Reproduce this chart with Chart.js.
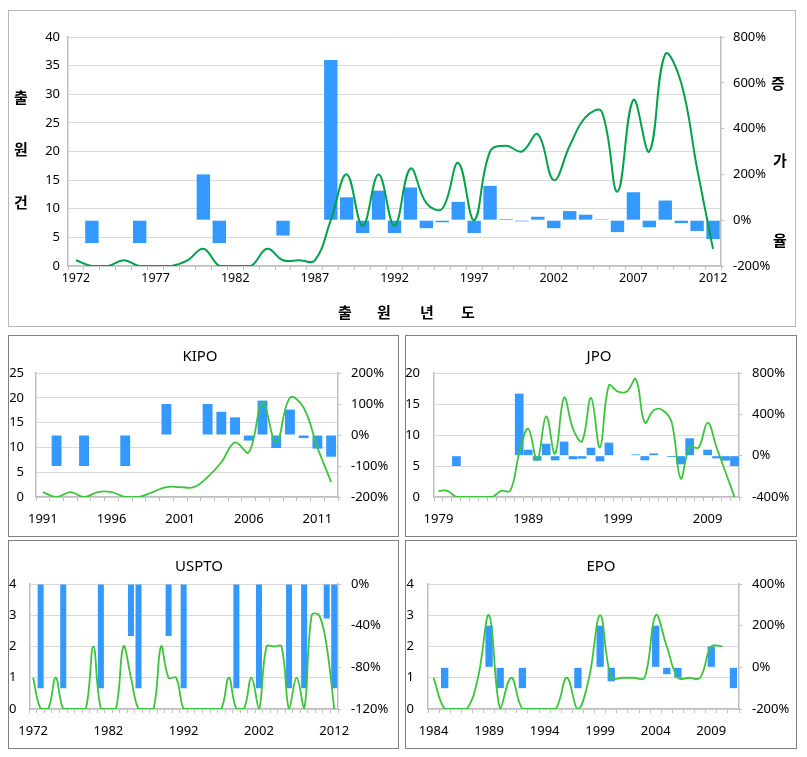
<!DOCTYPE html>
<html>
<head>
<meta charset="utf-8">
<script src="https://cdn.jsdelivr.net/npm/chart.js@4.4.0/dist/chart.umd.min.js"></script>
<style>
body { margin: 0; background: #fff; font-family: "Noto Sans", sans-serif; }
.box { position: absolute; box-sizing: border-box; border: 1px solid #808080; }
canvas { position: absolute; }
.t { position: absolute; transform: translate(-50%, -50%); white-space: nowrap; color: #000; }
.ko { font-family: "Noto Sans CJK KR", sans-serif; font-weight: bold; font-size: 15px; }
.ttl { font-size: 15px; }
</style>
</head>
<body>
<div class="box" style="left:8px;top:10px;width:788px;height:317px;border-color:#b8b8b8"></div>
<div class="box" style="left:8px;top:335px;width:391px;height:202px"></div>
<div class="box" style="left:405px;top:335px;width:392px;height:202px"></div>
<div class="box" style="left:8px;top:540px;width:391px;height:209px"></div>
<div class="box" style="left:405px;top:540px;width:392px;height:209px"></div>

<canvas id="total" width="787" height="316" style="left:8px;top:10px"></canvas>
<canvas id="kipo" width="390" height="201" style="left:8px;top:335px"></canvas>
<canvas id="jpo" width="392" height="201" style="left:405px;top:335px"></canvas>
<canvas id="uspto" width="390" height="208" style="left:8px;top:540px"></canvas>
<canvas id="epo" width="392" height="208" style="left:405px;top:540px"></canvas>

<div class="t ko" style="left:21px;top:96px">출</div>
<div class="t ko" style="left:21px;top:148px">원</div>
<div class="t ko" style="left:21px;top:201px">건</div>
<div class="t ko" style="left:778px;top:82px">증</div>
<div class="t ko" style="left:780px;top:159px">가</div>
<div class="t ko" style="left:780px;top:239px">율</div>
<div class="t ko" style="left:345px;top:311px">출</div>
<div class="t ko" style="left:384px;top:311px">원</div>
<div class="t ko" style="left:427px;top:311px">년</div>
<div class="t ko" style="left:468px;top:311px">도</div>

<div class="t ttl" style="left:200px;top:355px">KIPO</div>
<div class="t ttl" style="left:599px;top:355px">JPO</div>
<div class="t ttl" style="left:199px;top:565px">USPTO</div>
<div class="t ttl" style="left:601px;top:565px">EPO</div>

<script>
function years(from, to) {
    const out = [];
    for (let y = from; y <= to; y++) out.push(String(y));
    return out;
}

// 전체 (1972-2012)
const totalYears = years(1972, 2012);
const totalCounts = [1, 0, 0, 1, 0, 0, 0, 1, 3, 0, 0, 0, 3, 1, 1, 1, 8, 16, 7, 16, 7,
    17, 11, 10, 18, 8, 20, 21, 20, 23, 15, 21, 26, 27, 13, 29, 20, 37, 32, 17, 3];
const totalGrowth = [null, -100, null, null, -100, null, null, null, 200, -100, null, null, null,
    -67, 0, 0, 700, 100, -56, 129, -56, 143, -35, -9, 80, -56, 150, 5, -5, 15, -35, 40, 24, 4,
    -52, 122, -31, 86, -13, -47, -82];

// KIPO (1991-2012)
const kipoYears = years(1991, 2012);
const kipoCounts = [1, 0, 1, 0, 1, 1, 0, 0, 1, 2, 2, 2, 4, 7, 11, 9, 19, 11, 20, 18, 10, 3];
const kipoGrowth = [null, -100, null, -100, null, 0, -100, null, null, 100, 0, 0, 100, 75, 57,
    -18, 111, -42, 82, -10, -44, -70];

// JPO (1979-2012)
const jpoYears = years(1979, 2012);
const jpoCounts = [1, 1, 0, 0, 0, 0, 0, 1, 1, 7, 11, 6, 13, 7, 16, 11, 9, 16, 8, 18, 17, 17,
    19, 12, 14, 14, 12, 3, 8, 8, 12, 8, 4, 0];
const jpoGrowth = [null, 0, -100, null, null, null, null, null, 0, 600, 58, -48, 116, -45, 136,
    -35, -29, 77, -55, 126, -5, 0, 12, -45, 22, 0, -13, -84, 168, 0, 58, -26, -48, -100];

// USPTO (1972-2012)
const usptoYears = years(1972, 2012);
const usptoCounts = [1, 0, 0, 1, 0, 0, 0, 0, 2, 0, 0, 0, 2, 1, 0, 0, 0, 2, 1, 1, 0, 0, 0, 0,
    0, 0, 1, 0, 0, 1, 0, 2, 2, 2, 0, 1, 0, 3, 3, 2, 0];
const usptoGrowth = [null, -100, null, null, -100, null, null, null, null, -100, null, null, null,
    -50, -100, null, null, null, -50, 0, -100, null, null, null, null, null, null, -100, null, null,
    -100, null, 0, 0, -100, null, -100, null, 0, -33, -100];

// EPO (1984-2011)
const epoYears = years(1984, 2011);
const epoCounts = [1, 0, 0, 0, 1, 3, 0, 1, 0, 0, 0, 0, 1, 0, 1, 3, 1, 1, 1, 1, 3, 2, 1, 1, 1,
    2, 2, null];
const epoGrowth = [null, -100, null, null, null, 200, -100, null, -100, null, null, null, null,
    -100, null, 200, -67, 0, 0, 0, 200, -33, -50, 0, 0, 100, 0, -100];

const BAR = "#3399ff";
const AXIS = "#bfbfbf";
const GRID = "#d9d9d9";

function makeChart(id, o) {
    new Chart(document.getElementById(id), {
        type: "bar",
        data: {
            labels: o.years,
            datasets: [
                {
                    type: "line",
                    data: o.counts,
                    yAxisID: "y",
                    borderColor: o.lineColor,
                    borderWidth: o.lineWidth,
                    pointRadius: 0,
                    tension: 0.4,
                    order: 0
                },
                {
                    type: "bar",
                    data: o.growth,
                    yAxisID: "y2",
                    backgroundColor: BAR,
                    barPercentage: o.barPct,
                    categoryPercentage: 1,
                    order: 1
                }
            ]
        },
        options: {
            responsive: false,
            animation: false,
            layout: { padding: { top: o.top, left: 0, right: 0, bottom: 0 } },
            plugins: { legend: { display: false }, tooltip: { enabled: false } },
            scales: {
                x: {
                    grid: { drawOnChartArea: false, tickLength: 4, color: AXIS },
                    border: { color: AXIS, width: 1.5 },
                    ticks: {
                        autoSkip: false, maxRotation: 0, padding: o.xPad, color: "#000",
                        font: { family: "Noto Sans", size: o.xFont },
                        callback: (v, i) => (i % o.every === 0 ? o.years[i] : "")
                    },
                    afterFit: s => { s.height = o.xH; }
                },
                y: {
                    position: "left", min: 0, max: o.yMax,
                    ticks: { stepSize: o.yStep, padding: o.yPad, color: "#000",
                        font: { family: "Noto Sans", size: 13 } },
                    grid: { color: GRID, drawTicks: false },
                    border: { color: AXIS, width: 1.5 },
                    afterFit: s => { s.width = o.yW; }
                },
                y2: {
                    position: "right", min: o.rMin, max: o.rMax,
                    ticks: { stepSize: o.rStep, padding: o.rPad, color: "#000",
                        font: { family: "Noto Sans", size: 13 },
                        callback: v => v + "%" },
                    grid: { drawOnChartArea: false, tickLength: 3, color: AXIS },
                    border: { color: AXIS, width: 1.5 },
                    afterFit: s => { s.width = o.rW; }
                }
            }
        }
    });
}

makeChart("total", {
    years: totalYears, counts: totalCounts, growth: totalGrowth,
    lineColor: "#00a24a", lineWidth: 2, barPct: 0.84, every: 5,
    top: 27, yW: 60, rW: 74, xH: 60, xPad: 1, xFont: 12.5, yPad: 8, rPad: 9,
    yMax: 40, yStep: 5, rMin: -200, rMax: 800, rStep: 200
});

makeChart("kipo", {
    years: kipoYears, counts: kipoCounts, growth: kipoGrowth,
    lineColor: "#3cc43c", lineWidth: 1.8, barPct: 0.72, every: 5,
    top: 38, yW: 28, rW: 60, xH: 39, xPad: 10, xFont: 13, yPad: 12, rPad: 10,
    yMax: 25, yStep: 5, rMin: -200, rMax: 200, rStep: 100
});

makeChart("jpo", {
    years: jpoYears, counts: jpoCounts, growth: jpoGrowth,
    lineColor: "#3cc43c", lineWidth: 1.8, barPct: 0.97, every: 10,
    top: 38, yW: 29, rW: 58, xH: 39, xPad: 10, xFont: 13, yPad: 14, rPad: 10,
    yMax: 20, yStep: 5, rMin: -400, rMax: 800, rStep: 400
});

makeChart("uspto", {
    years: usptoYears, counts: usptoCounts, growth: usptoGrowth,
    lineColor: "#3cc43c", lineWidth: 1.8, barPct: 0.8, every: 10,
    top: 44, yW: 21, rW: 60, xH: 39, xPad: 10, xFont: 13, yPad: 13, rPad: 10,
    yMax: 4, yStep: 1, rMin: -120, rMax: 0, rStep: 40
});

makeChart("epo", {
    years: epoYears, counts: epoCounts, growth: epoGrowth,
    lineColor: "#3cc43c", lineWidth: 1.8, barPct: 0.66, every: 5,
    top: 44, yW: 23, rW: 58, xH: 39, xPad: 10, xFont: 13, yPad: 14, rPad: 10,
    yMax: 4, yStep: 1, rMin: -200, rMax: 400, rStep: 200
});
</script>
</body>
</html>
